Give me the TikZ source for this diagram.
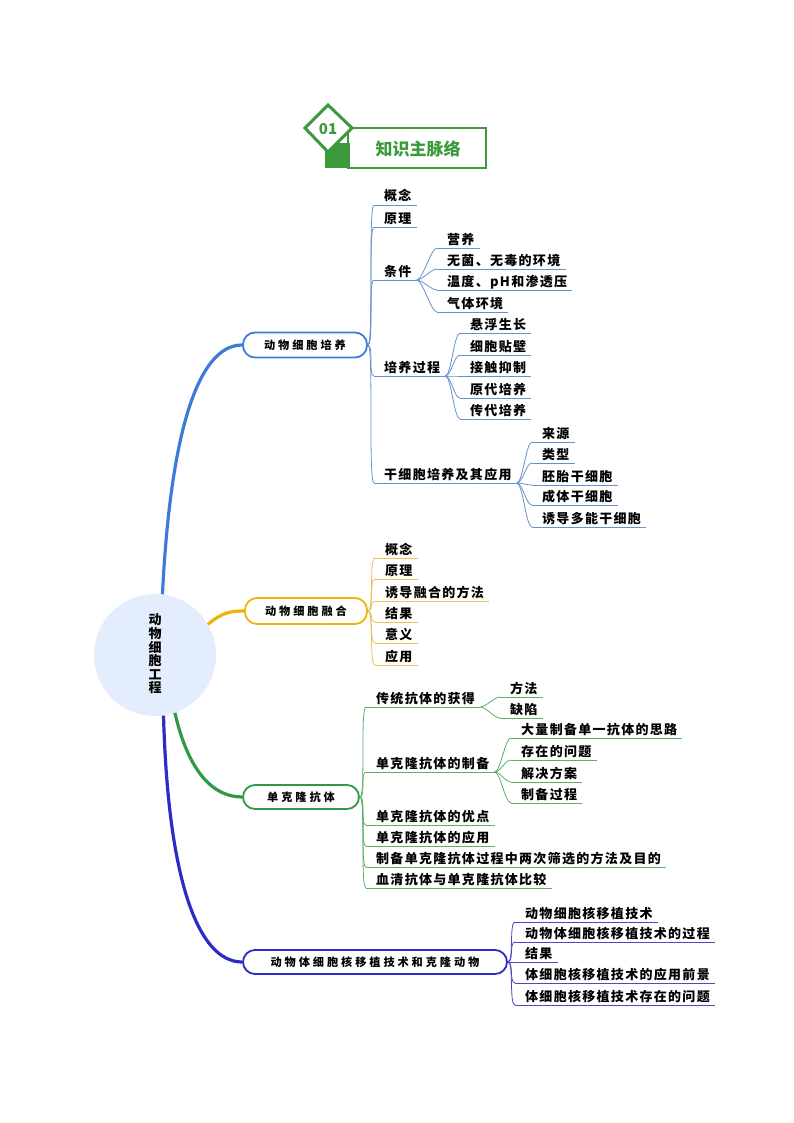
\documentclass[tikz,border=0pt]{standalone}
\usepackage{fontspec}
\setmainfont{Noto Sans CJK SC}
\newfontfamily\leaffont[LetterSpace=10]{Noto Sans CJK SC}
\newfontfamily\pillfont[LetterSpace=26]{Noto Sans CJK SC}
\newfontfamily\headfont{Noto Sans CJK SC}
\usetikzlibrary{calc}
\definecolor{hgreen}{HTML}{3C9A3C}
\definecolor{cblue}{HTML}{3D7BD9}
\definecolor{lblue}{HTML}{6690D2}
\definecolor{cyel}{HTML}{F0B30A}
\definecolor{lyel}{HTML}{E8C356}
\definecolor{cgreen}{HTML}{2F9A44}
\definecolor{lgreen}{HTML}{5DAE68}
\definecolor{cind}{HTML}{2C2CC4}
\definecolor{lind}{HTML}{4A4AC2}
\definecolor{rootfill}{HTML}{E3EDFB}
\tikzset{
  leaftext/.style={font=\leaffont\bfseries\fontsize{13}{15}\selectfont, inner sep=0pt},
  pill/.style={draw=#1, line width=1.8pt, rounded corners=12pt, fill=white, inner sep=0pt,
    font=\pillfont\bfseries\fontsize{11.2}{13}\selectfont},
  rootline/.style={draw=#1, line width=3.2pt},
  subline/.style={draw=#1, line width=0.8pt}
}
\newcommand\leaf[5]{%
  \coordinate (#1s) at (#2,#3);
  \node[leaftext, anchor=base west] (#1) at (#2+10,#3-4) {#5};
  \coordinate (#1t) at (#1.east |- #1s);
  \coordinate (#1e) at ([xshift=5pt]#1t);
  \draw[subline=#4] (#1s) -- (#1e);
}
\newcommand\conn[3]{\draw[subline=#1] (#2) .. controls +(6,0) and +(-6,0) .. (#3);}
\begin{document}
\begin{tikzpicture}[x=1pt,y=-1pt]
\useasboundingbox (0,0) rectangle (794,1123);
% header
\fill[hgreen] (325,143) rectangle (350,168);
\draw[hgreen, line width=2.4pt] (348,128) rectangle (486,168);
\draw[hgreen, line width=3pt, fill=white] (305,128) -- (328,105) -- (352,128) -- (328,152) -- cycle;
\node[text=hgreen, font=\headfont\bfseries\fontsize{15}{15}\selectfont] (hnum) at (328,129) {01};
\node[text=hgreen, font=\headfont\bfseries\fontsize{17}{17}\selectfont] (htitle) at (418,149) {知识主脉络};
% root
\node[circle, fill=rootfill, minimum size=122pt, inner sep=0pt] (root) at (155,655) {};
\node[align=center, font=\headfont\bfseries\fontsize{13}{13.6}\selectfont] (roottext) at (155,654) {动\\物\\细\\胞\\工\\程};
% pills
\node[pill=cblue, minimum width=124pt, minimum height=25pt] (p1) at (305,345) {动物细胞培养};
\node[pill=cyel, minimum width=122pt, minimum height=26pt] (p2) at (306,611) {动物细胞融合};
\node[pill=cgreen, minimum width=116pt, minimum height=24pt] (p3) at (301,797) {单克隆抗体};
\node[pill=cind, minimum width=264pt, minimum height=24pt] (p4) at (375,962) {动物体细胞核移植技术和克隆动物};
% root connectors
\draw[rootline=cblue] (root.83) .. controls (170,440) and (196,345) .. (p1.west);
\draw[rootline=cyel] (root.30) .. controls (222,612) and (232,611) .. (p2.west);
\draw[rootline=cgreen] (root.-71) .. controls (188,770) and (212,797) .. (p3.west);
\draw[rootline=cind] (root.-82) .. controls (168,880) and (198,962) .. (p4.west);
% branch 1
\leaf{a1}{374}{205}{lblue}{概念}
\leaf{a2}{374}{227}{lblue}{原理}
\leaf{a3}{374}{280}{lblue}{条件}
\leaf{a4}{374}{376}{lblue}{培养过程}
\leaf{a5}{374}{483}{lblue}{干细胞培养及其应用}
\foreach \n in {a1,a2,a3,a4,a5} {\conn{lblue}{p1.east}{\n s}}
\leaf{a31}{437}{248}{lblue}{营养}
\leaf{a32}{437}{269}{lblue}{无菌、无毒的环境}
\leaf{a33}{437}{290}{lblue}{温度、pH和渗透压}
\leaf{a34}{437}{312}{lblue}{气体环境}
\foreach \n in {a31,a32,a33,a34} {\conn{lblue}{a3e}{\n s}}
\leaf{a41}{460}{333}{lblue}{悬浮生长}
\leaf{a42}{460}{355}{lblue}{细胞贴壁}
\leaf{a43}{460}{376}{lblue}{接触抑制}
\leaf{a44}{460}{398}{lblue}{原代培养}
\leaf{a45}{460}{419}{lblue}{传代培养}
\foreach \n in {a41,a42,a43,a44,a45} {\conn{lblue}{a4e}{\n s}}
\leaf{a51}{532}{442}{lblue}{来源}
\leaf{a52}{532}{463}{lblue}{类型}
\leaf{a53}{532}{485}{lblue}{胚胎干细胞}
\leaf{a54}{532}{505}{lblue}{成体干细胞}
\leaf{a55}{532}{527}{lblue}{诱导多能干细胞}
\foreach \n in {a51,a52,a53,a54,a55} {\conn{lblue}{a5e}{\n s}}
% branch 2
\leaf{b1}{375}{558}{lyel}{概念}
\leaf{b2}{375}{579}{lyel}{原理}
\leaf{b3}{375}{601}{lyel}{诱导融合的方法}
\leaf{b4}{375}{622}{lyel}{结果}
\leaf{b5}{375}{643}{lyel}{意义}
\leaf{b6}{375}{665}{lyel}{应用}
\foreach \n in {b1,b2,b3,b4,b5,b6} {\conn{lyel}{p2.east}{\n s}}
% branch 3
\leaf{c1}{366}{707}{lgreen}{传统抗体的获得}
\leaf{c2}{366}{772}{lgreen}{单克隆抗体的制备}
\leaf{c3}{366}{825}{lgreen}{单克隆抗体的优点}
\leaf{c4}{366}{846}{lgreen}{单克隆抗体的应用}
\leaf{c5}{366}{867}{lgreen}{制备单克隆抗体过程中两次筛选的方法及目的}
\leaf{c6}{366}{888}{lgreen}{血清抗体与单克隆抗体比较}
\foreach \n in {c1,c2,c3,c4,c5,c6} {\conn{lgreen}{p3.east}{\n s}}
\leaf{c11}{500}{697}{lgreen}{方法}
\leaf{c12}{500}{718}{lgreen}{缺陷}
\foreach \n in {c11,c12} {\conn{lgreen}{c1e}{\n s}}
\leaf{c21}{511}{738}{lgreen}{大量制备单一抗体的思路}
\leaf{c22}{511}{760}{lgreen}{存在的问题}
\leaf{c23}{511}{782}{lgreen}{解决方案}
\leaf{c24}{511}{803}{lgreen}{制备过程}
\foreach \n in {c21,c22,c23,c24} {\conn{lgreen}{c2e}{\n s}}
% branch 4
\leaf{d1}{515}{922}{lind}{动物细胞核移植技术}
\leaf{d2}{515}{942}{lind}{动物体细胞核移植技术的过程}
\leaf{d3}{515}{962}{lind}{结果}
\leaf{d4}{515}{983}{lind}{体细胞核移植技术的应用前景}
\leaf{d5}{515}{1005}{lind}{体细胞核移植技术存在的问题}
\foreach \n in {d1,d2,d3,d4,d5} {\conn{lind}{p4.east}{\n s}}
\end{tikzpicture}
\end{document}
